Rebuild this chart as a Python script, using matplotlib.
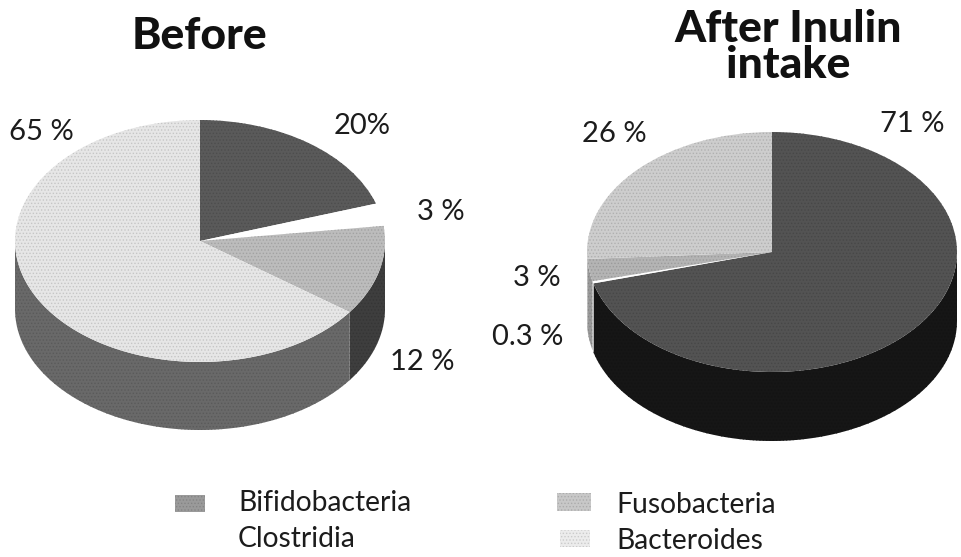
import numpy as np
import matplotlib
matplotlib.use('Agg')
import matplotlib.pyplot as plt
from matplotlib.colors import to_rgb
from matplotlib.patches import Rectangle

plt.rcParams['font.family'] = ['Lato', 'DejaVu Sans']
plt.rcParams['hatch.linewidth'] = 0.6

# Slices clockwise from the top
before_names = ['Bifidobacteria', 'Clostridia', 'Fusobacteria', 'Bacteroides']
before_values = [20, 3, 12, 65]
before_colors = ['#5a5a5a', '#ffffff', '#bcbcbc', '#e6e6e6']
before_sides = ['#5e5e5e', '#ffffff', '#3e3e3e', '#696969']

after_names = ['Bifidobacteria', 'Clostridia', 'Fusobacteria', 'Bacteroides']
after_values = [71, 0.3, 3, 26]
after_colors = ['#535353', '#ffffff', '#b4b4b4', '#cdcdcd']
after_sides = ['#161616', '#ffffff', '#9a9a9a', '#cdcdcd']

W, H = 961, 557
fig = plt.figure(figsize=(W / 100, H / 100), dpi=100)


def grain(color):
    # hatch tone for the printed, halftone look
    return tuple(c * 0.86 for c in to_rgb(color))


def draw_pie(cx, cy, rx, ry, depth, values, colors, sides):
    # axes spans one unit per radius, so the circle of ax.pie comes out flat
    extra = depth / ry
    ax = fig.add_axes([(cx - rx) / W, 1 - (cy + ry + depth) / H, 2 * rx / W, (2 * ry + depth) / H])
    total = sum(values)
    edge = 0
    for v, side in zip(values, sides):
        a0, a1 = edge, edge + v / total * 2 * np.pi
        edge = a1
        # only the front half of the rim can be seen
        a0, a1 = max(a0, np.pi / 2), min(a1, 3 * np.pi / 2)
        if a1 <= a0:
            continue
        t = np.linspace(a0, a1, 80)
        x = np.sin(t)
        y = np.cos(t)
        ax.fill(np.r_[x, x[::-1]], np.r_[y, y[::-1] - extra], facecolor=side,
                edgecolor=grain(side), hatch='.....', lw=0)
    wedges, _ = ax.pie(values, colors=colors, startangle=90, counterclock=False, radius=1,
                       wedgeprops={'linewidth': 0})
    for w, c in zip(wedges, colors):
        if c != '#ffffff':
            w.set_edgecolor(grain(c))
            w.set_hatch('.....')
    ax.set_aspect('auto')
    ax.set_xlim(-1, 1)
    ax.set_ylim(-1 - extra, 1)
    ax.set_axis_off()


draw_pie(200, 241, 185, 121, 68, before_values, before_colors, before_sides)
draw_pie(772, 252, 185, 120, 69, after_values, after_colors, after_sides)

# Overlay in pixel coordinates for the text and the legend
top = fig.add_axes([0, 0, 1, 1])
top.set_xlim(0, W)
top.set_ylim(H, 0)
top.set_axis_off()
top.patch.set_alpha(0)

ink = '#1c1c1c'
top.text(199, 36, 'Before', fontsize=32, fontweight='black', ha='center', va='center', color='#111111')
top.text(788, 47, 'After Inulin\nintake', fontsize=32, fontweight='black', ha='center', va='center',
         linespacing=0.9, color='#111111')

labels = [('65 %', 41, 132), ('20%', 362, 126), ('3 %', 441, 212), ('12 %', 422, 362),
          ('26 %', 614, 134), ('71 %', 912, 124), ('3 %', 537, 278), ('0.3 %', 528, 337)]
for s, x, y in labels:
    top.text(x, y, s, fontsize=21, ha='center', va='center', color=ink)

legend_left = ['Bifidobacteria', 'Clostridia']
legend_right = ['Fusobacteria', 'Bacteroides']
for s, y in zip(legend_left, [503, 539]):
    top.text(238, y, s, fontsize=20.3, va='center', color=ink)
for s, y in zip(legend_right, [505, 541]):
    top.text(616, y, s, fontsize=20.3, va='center', color=ink)

top.add_patch(Rectangle((175, 495), 30, 17, facecolor='#9a9a9a', edgecolor=grain('#9a9a9a'), hatch='.....', lw=0))
top.add_patch(Rectangle((557, 493), 34, 18, facecolor='#c8c8c8', edgecolor=grain('#c8c8c8'), hatch='.....', lw=0))
top.add_patch(Rectangle((560, 530), 30, 17, facecolor='#ececec', edgecolor=grain('#ececec'), hatch='.....', lw=0))

fig.savefig('out.png', dpi=100)
